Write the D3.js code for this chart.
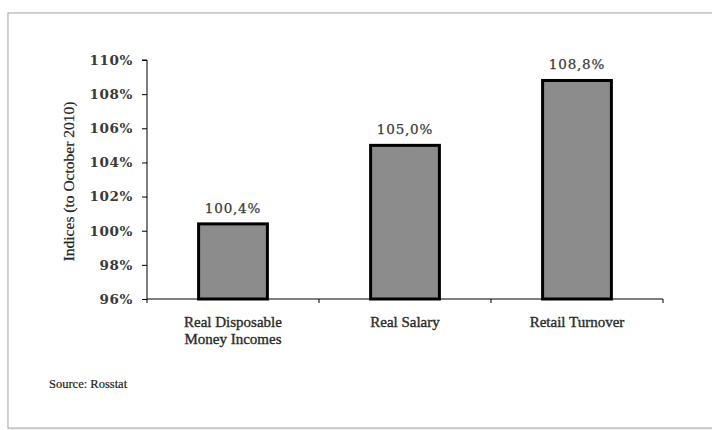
<!DOCTYPE html>
<html><head><meta charset="utf-8">
<script src="https://cdn.jsdelivr.net/npm/d3@7"></script>
<style>body{margin:0;background:#fff}</style>
</head><body>
<svg id="c" width="712" height="430"></svg>
<script>
const categories = [["Real Disposable","Money Incomes"],["Real Salary"],["Retail Turnover"]];
const values = [100.4, 105.0, 108.8];
const valueLabels = ["100,4%","105,0%","108,8%"];
const yTicks = [96, 98, 100, 102, 104, 106, 108, 110];
const yTitle = "Indices (to October 2010)";
const source = "Source: Rosstat";

const svg = d3.select("#c");
// frame
svg.append("rect").attr("x",9).attr("y",14).attr("width",712).attr("height",414)
  .attr("fill","none").attr("stroke","#e6e6e6").attr("stroke-width",3);
svg.append("rect").attr("x",8).attr("y",13).attr("width",712).attr("height",415)
  .attr("fill","#fff").attr("stroke","#a8a8a8").attr("stroke-width",1);

const L=147, R=663, T=60, B=299;
const x = d3.scaleBand().domain(d3.range(categories.length)).range([L,R]).paddingInner(0.6).paddingOuter(0.3);
const xb = d3.scaleBand().domain(d3.range(categories.length)).range([L,R]);
const y = d3.scaleLinear().domain([96,110]).range([B,T]);

// y axis
const ya = svg.append("g").attr("transform",`translate(${L},0)`)
  .call(d3.axisLeft(y).tickValues(yTicks).tickSize(5).tickFormat(d=>d+"%"));
ya.select(".domain").attr("stroke","#000").attr("d",`M-5,${T}H0V${B}`);
ya.selectAll(".tick line").attr("stroke","#000");
ya.selectAll("text").attr("font-family","DejaVu Serif").attr("font-size",13.5).attr("font-weight","bold")
  .attr("letter-spacing",0.6).attr("fill","#3a3a3a").attr("x",-14);

// x axis line + ticks
svg.append("line").attr("x1",L).attr("x2",R).attr("y1",B).attr("y2",B).attr("stroke","#000");
d3.range(categories.length+1).forEach(i=>{
  const xx = i<categories.length ? xb(i) : R;
  svg.append("line").attr("x1",xx).attr("x2",xx).attr("y1",B).attr("y2",B+4).attr("stroke","#000");
});

// bars
svg.selectAll(".bar").data(values).enter().append("rect")
  .attr("x",(d,i)=>x(i)).attr("width",x.bandwidth())
  .attr("y",d=>y(d)).attr("height",d=>B-y(d))
  .attr("fill","#8c8c8c").attr("stroke","#000").attr("stroke-width",3);

// value labels
svg.selectAll(".vl").data(values).enter().append("text")
  .attr("x",(d,i)=>x(i)+x.bandwidth()/2).attr("y",d=>y(d)-11)
  .attr("text-anchor","middle").attr("font-family","DejaVu Serif").attr("font-size",13.5)
  .attr("letter-spacing",0.8).attr("fill","#3a3a3a").attr("stroke","#3a3a3a").attr("stroke-width",0.25)
  .text((d,i)=>valueLabels[i]);

// category labels
categories.forEach((lines,i)=>{
  lines.forEach((ln,j)=>{
    svg.append("text").attr("x",xb(i)+xb.bandwidth()/2).attr("y",327+j*17)
      .attr("text-anchor","middle").attr("font-family","Liberation Serif").attr("font-size",15)
      .attr("fill","#2a2a2a").attr("stroke","#2a2a2a").attr("stroke-width",0.35).text(ln);
  });
});

// y title
svg.append("text").attr("transform",`translate(74,${(T+B)/2+2}) rotate(-90)`)
  .attr("text-anchor","middle").attr("font-family","Liberation Serif").attr("font-size",15.5)
  .attr("fill","#222").attr("stroke","#222").attr("stroke-width",0.2).text(yTitle);

// source
svg.append("text").attr("x",49).attr("y",388).attr("font-family","Liberation Serif").attr("font-size",12.5)
  .attr("fill","#222").attr("stroke","#222").attr("stroke-width",0.2).text(source);
</script>
</body></html>
